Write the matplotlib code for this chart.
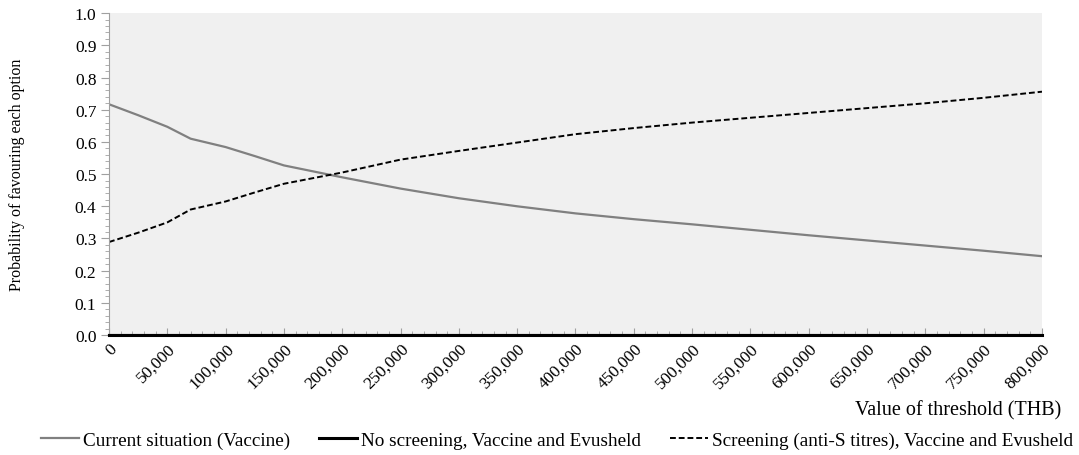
import matplotlib.pyplot as plt
from matplotlib.ticker import MultipleLocator, FuncFormatter

plt.rcParams['font.family'] = ['Liberation Serif', 'DejaVu Serif']

thb = [0, 25000, 50000, 70000, 100000, 125000, 150000, 200000, 250000, 300000,
       350000, 400000, 450000, 500000, 550000, 600000, 650000, 700000, 750000, 800000]
current = [0.717, 0.683, 0.647, 0.610, 0.584, 0.556, 0.527, 0.490, 0.455, 0.425,
           0.400, 0.378, 0.360, 0.344, 0.327, 0.310, 0.294, 0.278, 0.262, 0.245]
no_screening = [0.0] * len(thb)
screening = [0.289, 0.318, 0.350, 0.390, 0.415, 0.443, 0.470, 0.505, 0.545, 0.572,
             0.598, 0.624, 0.643, 0.660, 0.675, 0.690, 0.705, 0.720, 0.737, 0.756]

fig = plt.figure(figsize=(10.79, 4.56), dpi=100)
ax = fig.add_axes([0.101, 0.263, 0.8647, 0.706])
ax.set_facecolor('#f0f0f0')

ax.plot(thb, current, color='#808080', lw=1.6, label='Current situation (Vaccine)')
ax.plot(thb, no_screening, color='black', lw=2.2, label='No screening, Vaccine and Evusheld', clip_on=False, zorder=5)
ax.plot(thb, screening, color='black', lw=1.4, ls=(0, (3, 1.5)), label='Screening (anti-S titres), Vaccine and Evusheld')

ax.set_xlim(0, 800000)
ax.set_ylim(0, 1.0)
ax.xaxis.set_major_locator(MultipleLocator(50000))
ax.xaxis.set_minor_locator(MultipleLocator(10000))
ax.yaxis.set_major_locator(MultipleLocator(0.1))
ax.yaxis.set_minor_locator(MultipleLocator(0.02))
ax.xaxis.set_major_formatter(FuncFormatter(lambda v, p: f'{int(v):,}'))
ax.yaxis.set_major_formatter(FuncFormatter(lambda v, p: f'{v:.1f}'))

for s in ['top', 'right']:
    ax.spines[s].set_visible(False)
ax.spines['left'].set_color('#a0a0a0')
ax.spines['bottom'].set_color('black')
ax.spines['bottom'].set_linewidth(1.5)
ax.tick_params(axis='both', which='both', color='#a0a0a0', labelsize=12.5)
ax.tick_params(axis='y', which='major', length=6, pad=3)
ax.tick_params(axis='y', which='minor', length=3)
ax.tick_params(axis='x', which='major', length=5, direction='in')
ax.tick_params(axis='x', which='minor', length=3, direction='in')
plt.setp(ax.get_xticklabels(), rotation=45, ha='right', rotation_mode='anchor')

ax.set_ylabel('Probability of favouring each option', fontsize=11.5, labelpad=36)
fig.text(0.984, 0.1, 'Value of threshold (THB)', ha='right', va='center', fontsize=14.5)

fig.legend(loc='center', bbox_to_anchor=(0.516, 0.033), ncol=3, frameon=False,
           fontsize=13.8, handlelength=2.0, columnspacing=1.5, handletextpad=0.2)

fig.savefig('out.png', dpi=100)
